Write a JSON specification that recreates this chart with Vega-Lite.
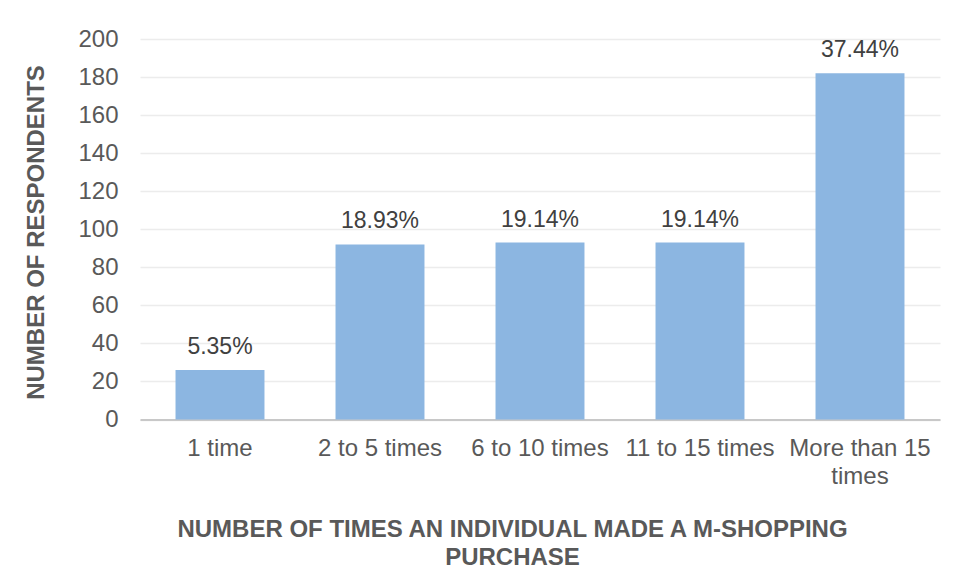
{
  "$schema": "https://vega.github.io/schema/vega-lite/v6.json",
  "autosize": "none",
  "width": 800,
  "height": 380.5,
  "padding": {"left": 140, "top": 39, "right": 18, "bottom": 160.5},
  "background": "white",
  "config": {
    "font": "Liberation Sans",
    "view": {"stroke": null}
  },
  "data": {
    "values": [
      {"times": "1 time", "respondents": 26, "share": "5.35%"},
      {"times": "2 to 5 times", "respondents": 92, "share": "18.93%"},
      {"times": "6 to 10 times", "respondents": 93, "share": "19.14%"},
      {"times": "11 to 15 times", "respondents": 93, "share": "19.14%"},
      {"times": "More than 15 times", "respondents": 182, "share": "37.44%"}
    ]
  },
  "encoding": {
    "x": {
      "field": "times",
      "type": "nominal",
      "sort": null,
      "scale": {"paddingInner": 0.444, "paddingOuter": 0.222},
      "axis": {
        "title": ["NUMBER OF TIMES AN INDIVIDUAL MADE A M-SHOPPING", "PURCHASE"],
        "titleFont": "Liberation Sans",
        "titleFontSize": 24,
        "titleFontWeight": "bold",
        "titleColor": "#595959",
        "titleX": 372,
        "titleY": 116.5,
        "titleAlign": "center",
        "titleBaseline": "alphabetic",
        "titleLineHeight": 28,
        "labelAngle": 0,
        "labelFontSize": 24,
        "labelColor": "#595959",
        "labelPadding": 17,
        "labelLimit": 0,
        "labelOverlap": false,
        "labelLineHeight": 28,
        "labelExpr": "datum.value == 'More than 15 times' ? ['More than 15', 'times'] : datum.label",
        "ticks": false,
        "domainColor": "#c8c8c8",
        "domainWidth": 2
      }
    },
    "y": {
      "field": "respondents",
      "type": "quantitative",
      "scale": {"domain": [0, 200], "nice": false},
      "axis": {
        "values": [0, 20, 40, 60, 80, 100, 120, 140, 160, 180, 200],
        "title": "NUMBER OF RESPONDENTS",
        "titleFontSize": 24,
        "titleFontWeight": "bold",
        "titleColor": "#595959",
        "titleX": -104,
        "titleY": 193,
        "titleAlign": "center",
        "titleBaseline": "middle",
        "labelFontSize": 24,
        "labelColor": "#595959",
        "labelPadding": 22,
        "ticks": false,
        "domain": false,
        "gridColor": "#ececec",
        "gridWidth": 1.5
      }
    }
  },
  "layer": [
    {"mark": {"type": "bar", "color": "#8cb6e1"}},
    {
      "mark": {"type": "text", "baseline": "alphabetic", "dy": -16, "fontSize": 23, "color": "#404040"},
      "encoding": {"text": {"field": "share"}}
    }
  ]
}
